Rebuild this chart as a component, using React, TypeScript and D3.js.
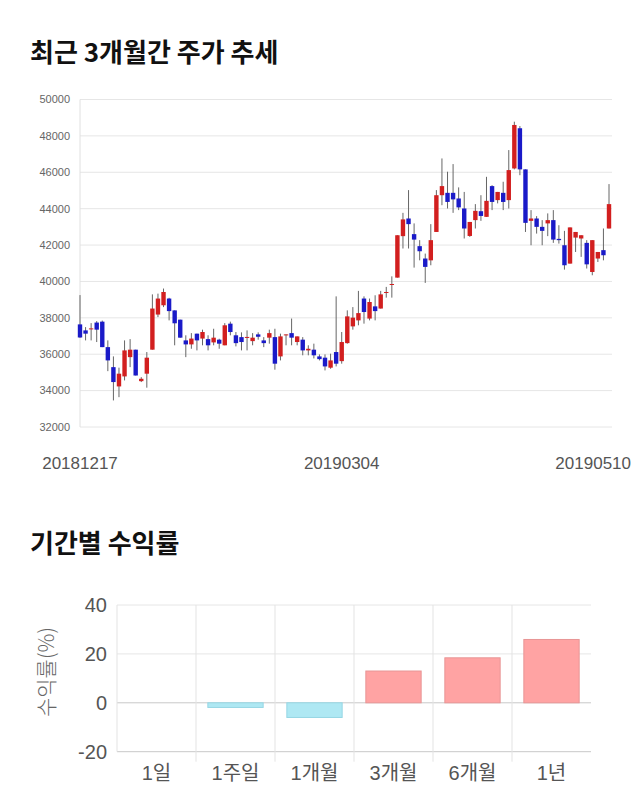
import React from "react";
import * as d3 from "d3";

// ---- Candlestick data (daily, 2018-12-17 .. 2019-05-10) ----
const opens = [37640,37310,37400,37740,37790,36390,35290,34230,34780,35840,36250,34520,34930,36250,38180,38690,39060,38410,37900,36760,36540,37130,36860,36830,36650,36800,36490,37680,37040,36940,36910,36720,37090,36760,36910,36940,35880,37040,37160,36670,36800,36210,36250,35880,35810,35260,36120,35620,36610,37530,37860,39060,37960,38630,38510,39390,39830,40210,42490,43460,42600,41940,41260,41160,42720,44740,44870,44870,44560,44010,42500,43370,43860,43550,45240,44470,44870,44470,46210,48420,46160,43330,43460,43000,43190,43370,42340,41990,40980,42410,42360,42120,40520,41260,41720,42910];
const highs = [39250,37490,37710,37820,37850,36760,35880,35260,36760,36830,36250,34740,36120,39290,39330,39610,39100,38410,37900,37040,37160,37130,37350,37040,37400,36850,37710,37790,37220,37200,37310,37160,37200,36940,37350,37400,37130,37090,37960,36980,36940,36490,36580,35990,35990,36030,39180,37220,38410,38590,39480,39180,39060,39240,39480,39700,40280,42540,43770,45020,43190,42270,41530,43150,45020,46760,46030,46450,45170,44920,43270,44250,44740,45750,45290,44920,45480,47220,48780,48540,46160,43920,43590,43370,43740,43920,43090,42780,42970,42720,42540,42270,42270,41620,42910,45350];
const lows = [36900,36760,36760,36670,36390,35070,33460,33640,34560,35290,34830,34470,34160,36250,38040,38590,37860,36490,36900,35840,36300,36210,36490,36210,36490,36300,36490,37040,36430,36210,36210,36490,36800,36390,36580,35150,35660,36490,36490,36490,35940,35940,35770,35660,35110,35200,35330,35480,36580,37350,37590,37680,37860,37860,38510,39110,39110,40210,41810,41810,40760,41160,39920,40890,42720,44190,44010,43770,43920,42360,42450,42910,43330,43550,43920,44290,43920,44010,46160,45840,42720,41990,42630,41990,42490,42120,42080,40650,40980,41620,41350,40710,40340,41070,41160,42910];
const closes = [36920,37130,37420,37350,36390,35660,34470,34930,36210,36250,34830,34650,35810,38510,39060,39420,38370,37700,36910,36540,36860,36760,37220,36490,36910,36580,37590,37220,36610,36670,36950,36910,36960,36610,37160,35480,36980,37090,36910,36980,36210,36300,35940,35730,35330,35660,35480,36670,38080,38010,38260,38320,38870,38370,39290,39420,39860,42540,43410,43150,42300,41660,40800,42270,44740,45240,44370,44510,44070,42910,43270,43880,43600,44430,44370,44920,44370,46120,48600,46160,43220,43460,43000,42780,43370,42300,42270,40890,42970,42720,42540,40940,42270,41620,41440,44250];
const priceTicks = [32000, 34000, 36000, 38000, 40000, 42000, 44000, 46000, 48000, 50000];
const dateTickIndex = [0, 47, 95];
const dateTickLabels = ["20181217", "20190304", "20190510"];

// ---- Period returns ----
const periods = ["1일", "1주일", "1개월", "3개월", "6개월", "1년"];
const returns = [0, -1.9, -6.0, 13.0, 18.4, 25.9];
const returnTicks = [-20, 0, 20, 40];

const LATIN = "'Liberation Sans', Arial, 'Noto Sans CJK KR', sans-serif";
const KR = "'Noto Sans CJK KR', 'Noto Sans', sans-serif";

export default function App() {
  const n = opens.length;
  const x = d3.scaleLinear().domain([0, n - 1]).range([80, 609]);
  const y = d3.scaleLinear().domain([32000, 50000]).range([427, 99.5]);

  const xb = d3.scaleBand<string>().domain(periods).range([117, 591]).paddingInner(0.3).paddingOuter(0.15);
  const yb = d3.scaleLinear().domain([-20, 40]).range([751.7, 605]);
  const step = xb.step();

  return (
    <svg width={640} height={810} style={{ position: "absolute", left: 0, top: 0, background: "#fff" }}>
      {/* Title 1 */}
      <text x={30} y={62} fontFamily={KR} fontWeight="bold" fontSize={26} fill="#111">최근 3개월간 주가 추세</text>

      {/* Price grid */}
      {priceTicks.map((t) => (
        <g key={t}>
          <line x1={80} x2={612} y1={y(t)} y2={y(t)} stroke="#e6e6e6" strokeWidth={1} />
          <text x={70} y={y(t)} dy="0.35em" textAnchor="end" fontFamily={LATIN} fontSize={11} fill="#666">{t}</text>
        </g>
      ))}
      <line x1={80} x2={80} y1={y(50000)} y2={y(32000)} stroke="#e0e0e0" />

      {/* Candles */}
      {opens.map((o, i) => {
        const c = closes[i];
        const up = c >= o;
        const top = y(Math.max(o, c));
        const bot = y(Math.min(o, c));
        const color = up ? "#d21f1f" : "#1a1ac8";
        return (
          <g key={i}>
            <line x1={x(i)} x2={x(i)} y1={y(highs[i])} y2={y(lows[i])} stroke="#666" strokeWidth={1} />
            <rect x={x(i) - 2.2} width={4.4} y={top} height={Math.max(1, bot - top)} fill={color} />
          </g>
        );
      })}

      {/* Date labels */}
      {dateTickIndex.map((idx, k) => {
        const last = k === dateTickIndex.length - 1;
        return (
          <text key={idx} x={last ? 631 : x(idx)} y={469} textAnchor={last ? "end" : "middle"} fontFamily={LATIN} fontSize={17} fill="#555">
            {dateTickLabels[k]}
          </text>
        );
      })}

      {/* Title 2 */}
      <text x={30} y={553} fontFamily={KR} fontWeight="bold" fontSize={26} fill="#111">기간별 수익률</text>

      {/* Bar grid */}
      {returnTicks.map((t) => (
        <g key={t}>
          <line x1={117} x2={591} y1={yb(t)} y2={yb(t)} stroke={t === 0 || t === -20 ? "#c8c8c8" : "#e6e6e6"} />
          <text x={107} y={yb(t)} dy="0.36em" textAnchor="end" fontFamily={LATIN} fontSize={20} fill="#555">{t}</text>
        </g>
      ))}
      {periods.map((p, k) => (
        <line key={p} x1={117 + k * step} x2={117 + k * step} y1={yb(40)} y2={k === 0 ? yb(-20) : yb(-20) + 10} stroke="#e3e3e3" />
      ))}

      {/* Bars */}
      {periods.map((p, k) => {
        const v = returns[k];
        if (v === 0) return null;
        const y0 = yb(Math.max(0, v));
        const y1 = yb(Math.min(0, v));
        const pos = v > 0;
        return (
          <rect key={p} x={xb(p)} width={xb.bandwidth()} y={y0} height={y1 - y0}
            fill={pos ? "#ffa3a3" : "#aee8f3"} stroke={pos ? "#e89595" : "#96d6e4"} strokeWidth={1} />
        );
      })}

      {/* Category labels */}
      {periods.map((p) => (
        <text key={p} x={(xb(p) as number) + xb.bandwidth() / 2} y={780} textAnchor="middle" fontFamily={LATIN} fontSize={20} fill="#555">{p}</text>
      ))}

      {/* Y axis label */}
      <text transform="translate(54,672) rotate(-90)" textAnchor="middle" fontFamily={KR} fontWeight={300} fontSize={21} fill="#666">수익률(%)</text>
    </svg>
  );
}
